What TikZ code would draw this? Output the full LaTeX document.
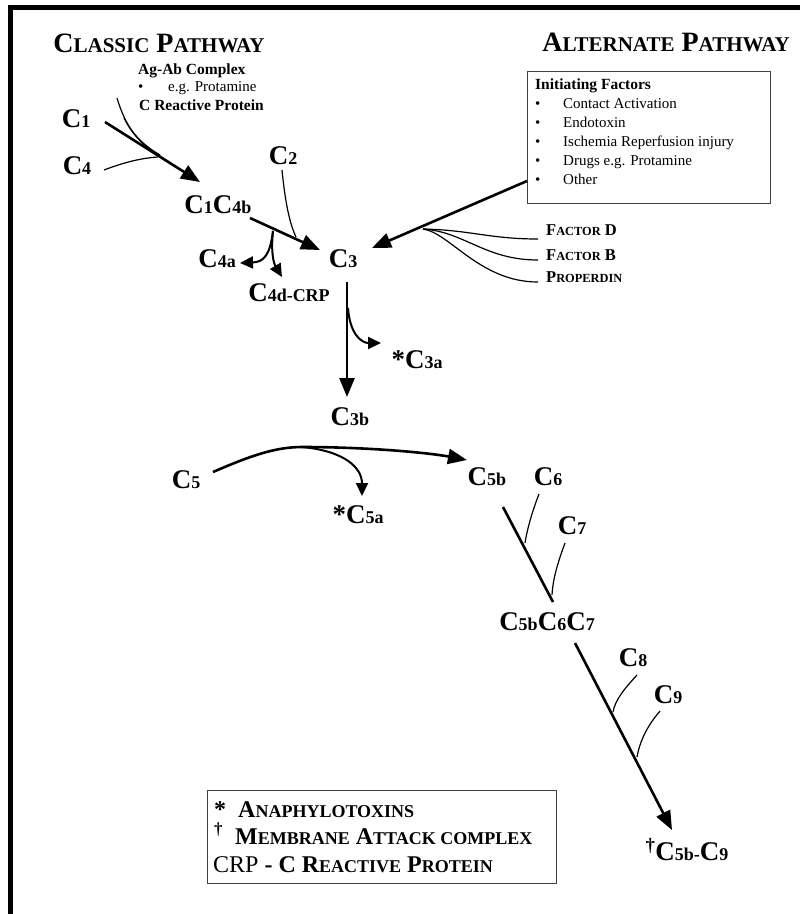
\documentclass[tikz,border=0pt]{standalone}
\usepackage{fontspec}
\setmainfont{Liberation Serif}
\usetikzlibrary{arrows.meta}

\makeatletter
\newcommand\lowcaps[1]{{\fontsize{\fpeval{0.75*\f@size}}{\f@baselineskip}\selectfont #1}}
\makeatother
\newcommand\cnum[1]{{\fontsize{18}{19}\selectfont #1}}

\tikzset{
  comp/.style={font=\fontsize{27}{29}\selectfont\bfseries, inner sep=0pt},
  heading/.style={font=\fontsize{28}{30}\selectfont\bfseries, inner sep=0pt},
  note/.style={font=\fontsize{15}{17}\selectfont, inner sep=0pt, anchor=base west},
  boldnote/.style={note, font=\fontsize{15.5}{17}\selectfont\bfseries},
  factor/.style={font=\fontsize{16.5}{18}\selectfont\bfseries, inner sep=0pt, anchor=base west},
  keytext/.style={font=\fontsize{24}{27}\selectfont\bfseries, inner sep=0pt, anchor=base west},
  panel/.style={draw=black!75, line width=1pt, inner sep=0pt, anchor=north west},
  flow/.style={line width=2.6pt, -{Triangle[length=19pt,width=15pt]}},
  split/.style={line width=2pt, -{Triangle[length=13pt,width=12pt]}},
  feed/.style={line width=1.2pt},
}

\begin{document}
\begin{tikzpicture}[x=1pt, y=-1pt]
  \useasboundingbox (0,0) rectangle (800,914);
  % frame
  \draw[line width=4.8pt] (10.5,914) -- (10.5,7.5) -- (800,7.5);

  % headings
  \node[heading] (classic) at (159,43) {C\lowcaps{LASSIC} P\lowcaps{ATHWAY}};
  \node[heading] (alternate) at (666,42) {A\lowcaps{LTERNATE} P\lowcaps{ATHWAY}};

  % classic pathway triggers
  \node[boldnote] (agab) at (138,74) {Ag-Ab Complex};
  \node[note] (protamine) at (138,91) {\makebox[30pt][l]{\textbullet}e.g. Protamine};
  \node[boldnote] (reactive) at (139,110) {C Reactive Protein};

  % initiating factors
  \node[panel, minimum width=243pt, minimum height=132pt] (init) at (527,71) {};
  \node[boldnote] (inithead) at (535,89) {Initiating Factors};
  \foreach \txt [count=\i] in {Contact Activation, Endotoxin, Ischemia Reperfusion injury,
      Drugs e.g. Protamine, Other}
    \node[note] (init\i) at (535,{89+19*\i}) {\makebox[28pt][l]{\textbullet}\txt};

  \node[factor] (factd) at (546,235) {F\lowcaps{ACTOR} D};
  \node[factor] (factb) at (546,260) {F\lowcaps{ACTOR} B};
  \node[factor] (prop) at (546,282) {P\lowcaps{ROPERDIN}};

  % components
  \node[comp] (c1) at (76,119) {C\cnum{1}};
  \node[comp] (c4) at (77,166) {C\cnum{4}};
  \node[comp] (c1c4b) at (218,205) {C\cnum{1}C\cnum{4b}};
  \node[comp] (c2) at (283,156) {C\cnum{2}};
  \node[comp] (c4a) at (217,259) {C\cnum{4a}};
  \node[comp] (c4d) at (289,293) {C\cnum{4d-CRP}};
  \node[comp] (c3) at (343,259) {C\cnum{3}};
  \node[comp] (c3a) at (417,360) {*C\cnum{3a}};
  \node[comp] (c3b) at (350,417) {C\cnum{3b}};
  \node[comp] (c5) at (186,480) {C\cnum{5}};
  \node[comp] (c5a) at (358,515) {*C\cnum{5a}};
  \node[comp] (c5b) at (487,477) {C\cnum{5b}};
  \node[comp] (c6) at (548,477) {C\cnum{6}};
  \node[comp] (c7) at (572,526) {C\cnum{7}};
  \node[comp] (c567) at (547,622) {C\cnum{5b}C\cnum{6}C\cnum{7}};
  \node[comp] (c8) at (633,658) {C\cnum{8}};
  \node[comp] (c9) at (668,695) {C\cnum{9}};
  \node[comp] (mac) at (687,850) {\textsuperscript{\textdagger}C\cnum{5b-}C\cnum{9}};

  % junctions and free ends
  \coordinate (c1-out) at (105,122);
  \coordinate (c1c4b-in) at (200,182);
  \coordinate (agab-out) at (117,98);
  \coordinate (c4-out) at (104,170);
  \coordinate (c1c4b-out) at (250,218);
  \coordinate (c3-left) at (320,250);
  \coordinate (c2-out) at (282,170);
  \coordinate (c4-split) at (273,231);
  \coordinate (c3-right) at (372,248);
  \coordinate (alt-join) at (423,229);
  \coordinate (c3-out) at (347,282);
  \coordinate (c3b-in) at (347,397);
  \coordinate (c5-out) at (213,472);
  \coordinate (c5-top) at (302,447);
  \coordinate (c5b-in) at (467,460);

  % classic pathway
  \draw[flow] (c1-out) -- (c1c4b-in);
  \draw[feed] (agab-out) .. controls (126,128) and (138,142) .. (160,155);
  \draw[feed] (124,118) .. controls (134,138) and (148,150) .. (168,161);
  \draw[feed] (c4-out) .. controls (125,162) and (142,158) .. (158,157);
  \draw[flow] (c1c4b-out) -- (c3-left);
  \draw[feed] (c2-out) .. controls (285,200) and (289,222) .. (296,237);
  \draw[split] (c4-split) .. controls (270,255) and (264,262) .. (240,263);
  \draw[split] (c4-split) .. controls (271,250) and (273,262) .. (282,277);

  % alternate pathway
  \draw[flow] ([yshift=23pt]init.south west) -- (c3-right);
  \draw[feed] (alt-join) .. controls (470,230) and (490,239) .. (538,239);
  \draw[feed] (alt-join) .. controls (465,232) and (485,260) .. (538,260);
  \draw[feed] (alt-join) .. controls (450,233) and (480,282) .. (538,282);

  % C3 and C5 cleavage
  \draw[flow] (c3-out) -- (c3b-in);
  \draw[split] (348,308) .. controls (350,335) and (362,343) .. (381,343);
  \draw[flow] (c5-out) .. controls (250,456) and (275,447) .. (c5-top)
    .. controls (370,447) and (430,453) .. (c5b-in);
  \draw[split] (c5-top) .. controls (345,451) and (362,468) .. (362,496);

  % membrane attack complex
  \draw[line width=2.6pt] (503,507) -- (553,602);
  \draw[feed] (539,494) .. controls (532,512) and (527,530) .. (525,543);
  \draw[feed] (565,543) .. controls (558,562) and (553,578) .. (552,595);
  \draw[flow] (575,643) -- (672,830);
  \draw[feed] (637,675) .. controls (625,688) and (615,700) .. (613,712);
  \draw[feed] (660,711) .. controls (648,725) and (640,740) .. (637,757);

  % key
  \node[panel, minimum width=349pt, minimum height=93pt] (key) at (207,790) {};
  \node[keytext] (key1) at (214,817) {\makebox[24pt][l]{*}A\lowcaps{NAPHYLOTOXINS}};
  \node[keytext] (key2) at (214,844) {\makebox[21pt][l]{\textsuperscript{\textdagger}}M\lowcaps{EMBRANE} A\lowcaps{TTACK COMPLEX}};
  \node[keytext] (key3) at (213,872) {{\mdseries CRP} - C R\lowcaps{EACTIVE} P\lowcaps{ROTEIN}};
\end{tikzpicture}
\end{document}
